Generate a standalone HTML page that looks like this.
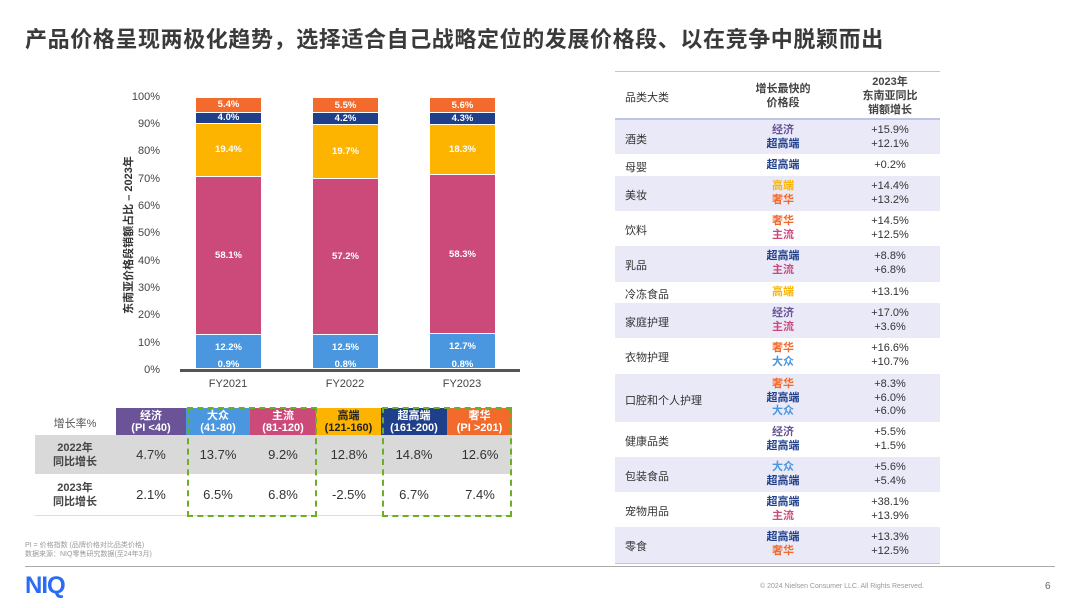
<!DOCTYPE html>
<html><head><meta charset="utf-8"><style>
*{margin:0;padding:0;box-sizing:border-box}
body{width:1080px;height:608px;background:#fff;position:relative;overflow:hidden;font-family:"Liberation Sans","Noto Sans CJK SC",sans-serif;color:#333}
.a{position:absolute}
.title{left:25px;top:22px;font-size:22px;font-weight:bold;color:#3a3a3a;letter-spacing:0.6px;white-space:nowrap}
.yl{right:920px;font-size:11px;color:#444;text-align:right;width:40px}
.bar{width:65px;height:273px;top:97px;display:flex;flex-direction:column-reverse}
.bar div{border-top:1px solid #fff;display:flex;align-items:center;justify-content:center;color:#fff;font-size:9.5px;font-weight:bold;overflow:visible;white-space:nowrap}
.e{background:#6a5497}.m{background:#4a97e0}.p{background:#cc4a7a}.h{background:#fdb400}.s{background:#1f3f8a}.l{background:#f26a2c}
.sl{width:65px;text-align:center;color:#fff;font-size:9.5px;font-weight:bold;top:359px;z-index:2}
.xl{top:378px;font-size:11px;color:#444;width:80px;text-align:center}
.hd{top:408px;height:27px;color:#fff;font-size:11px;font-weight:bold;text-align:center;line-height:12px;padding-top:2px}
.c{font-size:13px;color:#333;text-align:center;width:66px}
.rl{font-size:11px;font-weight:bold;color:#444;text-align:center;width:70px;line-height:14px}
.dash{border:2px dashed #6bb024}
.row{left:615px;width:325px}
.sh{background:#e9e9f8}
.cat{left:625px;font-size:11px;color:#333}
.seg{left:745px;width:76px;text-align:center;font-size:11px;font-weight:bold;line-height:13.5px}
.gr{left:850px;width:80px;text-align:center;font-size:11px;color:#333;line-height:13.5px}
.ce{color:#6a5497}.cm{color:#4a97e0}.cp{color:#cc4a7a}.ch{color:#fdb400}.cs{color:#1f3f8a}.cl{color:#f26a2c}
</style></head><body>
<div class="a title">产品价格呈现两极化趋势，选择适合自己战略定位的发展价格段、以在竞争中脱颖而出</div>

<div class="a yl" style="top:91px">100%</div>
<div class="a yl" style="top:118px">90%</div>
<div class="a yl" style="top:145px">80%</div>
<div class="a yl" style="top:173px">70%</div>
<div class="a yl" style="top:200px">60%</div>
<div class="a yl" style="top:227px">50%</div>
<div class="a yl" style="top:255px">40%</div>
<div class="a yl" style="top:282px">30%</div>
<div class="a yl" style="top:309px">20%</div>
<div class="a yl" style="top:337px">10%</div>
<div class="a yl" style="top:364px">0%</div>
<div class="a" style="left:128px;top:235px;transform:translate(-50%,-50%) rotate(-90deg);font-size:11px;font-weight:bold;color:#333;white-space:nowrap">东南亚价格段销额占比 – 2023年</div>

<div class="a bar" style="left:196px">
<div class="e" style="height:2.5px"></div><div class="m" style="height:33.3px;padding-bottom:8px">12.2%</div><div class="p" style="height:158.6px">58.1%</div><div class="h" style="height:53px">19.4%</div><div class="s" style="height:10.9px">4.0%</div><div class="l" style="height:14.7px">5.4%</div></div>
<div class="a bar" style="left:313px">
<div class="e" style="height:2.2px"></div><div class="m" style="height:34.1px;padding-bottom:8px">12.5%</div><div class="p" style="height:156.2px">57.2%</div><div class="h" style="height:53.8px">19.7%</div><div class="s" style="height:11.5px">4.2%</div><div class="l" style="height:15.2px">5.5%</div></div>
<div class="a bar" style="left:430px">
<div class="e" style="height:2.2px"></div><div class="m" style="height:34.7px;padding-bottom:8px">12.7%</div><div class="p" style="height:159.2px">58.3%</div><div class="h" style="height:50px">18.3%</div><div class="s" style="height:11.7px">4.3%</div><div class="l" style="height:15.2px">5.6%</div></div>
<div class="a sl" style="left:196px">0.9%</div>
<div class="a sl" style="left:313px">0.8%</div>
<div class="a sl" style="left:430px">0.8%</div>
<div class="a" style="left:180px;top:369px;width:340px;height:3px;background:#555"></div>
<div class="a xl" style="left:188px">FY2021</div>
<div class="a xl" style="left:305px">FY2022</div>
<div class="a xl" style="left:422px">FY2023</div>

<div class="a" style="left:40px;top:415px;width:70px;text-align:center;font-size:11px;color:#555">增长率%</div>
<div class="a hd e" style="left:116px;width:70px">经济<br>(PI &lt;40)</div>
<div class="a hd m" style="left:186px;width:64px">大众<br>(41-80)</div>
<div class="a hd p" style="left:250px;width:66px">主流<br>(81-120)</div>
<div class="a hd h" style="left:316px;width:65px;color:#222">高端<br>(121-160)</div>
<div class="a hd s" style="left:381px;width:66px">超高端<br>(161-200)</div>
<div class="a hd l" style="left:447px;width:65px">奢华<br>(PI &gt;201)</div>
<div class="a" style="left:35px;top:435px;width:477px;height:39px;background:#d9d9d9"></div>
<div class="a" style="left:35px;top:515px;width:477px;height:1px;background:#ddd"></div>
<div class="a rl" style="left:40px;top:441px">2022年<br>同比增长</div>
<div class="a rl" style="left:40px;top:481px">2023年<br>同比增长</div>
<div class="a c" style="left:118px;top:447px">4.7%</div><div class="a c" style="left:185px;top:447px">13.7%</div><div class="a c" style="left:250px;top:447px">9.2%</div><div class="a c" style="left:316px;top:447px">12.8%</div><div class="a c" style="left:381px;top:447px">14.8%</div><div class="a c" style="left:447px;top:447px">12.6%</div>
<div class="a c" style="left:118px;top:487px">2.1%</div><div class="a c" style="left:185px;top:487px">6.5%</div><div class="a c" style="left:250px;top:487px">6.8%</div><div class="a c" style="left:316px;top:487px">-2.5%</div><div class="a c" style="left:381px;top:487px">6.7%</div><div class="a c" style="left:447px;top:487px">7.4%</div>
<div class="a dash" style="left:187px;top:407px;width:130px;height:110px"></div>
<div class="a dash" style="left:382px;top:407px;width:130px;height:110px"></div>

<div class="a" style="left:25px;top:541px;font-size:7px;color:#999;line-height:9px">PI = 价格指数 (品牌价格对比品类价格)<br>数据来源：NIQ零售研究数据(至24年3月)</div>
<div class="a" style="left:25px;top:566px;width:1030px;height:1px;background:#aaa"></div>
<div class="a" style="left:25px;top:572px;font-size:24px;font-weight:bold;color:#2b6cf6;letter-spacing:-1px">NIQ</div>
<div class="a" style="left:760px;top:583px;font-size:7px;color:#999">© 2024 Nielsen Consumer LLC. All Rights Reserved.</div>
<div class="a" style="left:1045px;top:581px;font-size:10px;color:#666">6</div>

<div class="a" style="left:615px;top:71px;width:325px;height:1px;background:#bfc3e8"></div>
<div class="a cat" style="top:89px">品类大类</div>
<div class="a" style="left:745px;top:82px;width:76px;text-align:center;font-size:11px;font-weight:bold;color:#444;line-height:14px">增长最快的<br>价格段</div>
<div class="a" style="left:850px;top:75px;width:80px;text-align:center;font-size:11px;font-weight:bold;color:#444;line-height:14px">2023年<br>东南亚同比<br>销额增长</div>
<div class="a" style="left:615px;top:118px;width:325px;height:2px;background:#bfc3e8"></div>

<div class="a row sh" style="top:120px;height:34px"></div>
<div class="a row sh" style="top:176px;height:35px"></div>
<div class="a row sh" style="top:246px;height:36px"></div>
<div class="a row sh" style="top:303px;height:35px"></div>
<div class="a row sh" style="top:374px;height:48px"></div>
<div class="a row sh" style="top:457px;height:35px"></div>
<div class="a row sh" style="top:527px;height:36px"></div>
<div class="a" style="left:615px;top:563px;width:325px;height:1px;background:#bfc3e8"></div>

<div class="a cat" style="top:131px">酒类</div><div class="a seg" style="top:124px"><span class="ce">经济</span><br><span class="cs">超高端</span></div><div class="a gr" style="top:124px">+15.9%<br>+12.1%</div>
<div class="a cat" style="top:159px">母婴</div><div class="a seg" style="top:159px"><span class="cs">超高端</span></div><div class="a gr" style="top:159px">+0.2%</div>
<div class="a cat" style="top:187px">美妆</div><div class="a seg" style="top:180px"><span class="ch">高端</span><br><span class="cl">奢华</span></div><div class="a gr" style="top:180px">+14.4%<br>+13.2%</div>
<div class="a cat" style="top:222px">饮料</div><div class="a seg" style="top:215px"><span class="cl">奢华</span><br><span class="cp">主流</span></div><div class="a gr" style="top:215px">+14.5%<br>+12.5%</div>
<div class="a cat" style="top:257px">乳品</div><div class="a seg" style="top:250px"><span class="cs">超高端</span><br><span class="cp">主流</span></div><div class="a gr" style="top:250px">+8.8%<br>+6.8%</div>
<div class="a cat" style="top:286px">冷冻食品</div><div class="a seg" style="top:286px"><span class="ch">高端</span></div><div class="a gr" style="top:286px">+13.1%</div>
<div class="a cat" style="top:314px">家庭护理</div><div class="a seg" style="top:307px"><span class="ce">经济</span><br><span class="cp">主流</span></div><div class="a gr" style="top:307px">+17.0%<br>+3.6%</div>
<div class="a cat" style="top:349px">衣物护理</div><div class="a seg" style="top:342px"><span class="cl">奢华</span><br><span class="cm">大众</span></div><div class="a gr" style="top:342px">+16.6%<br>+10.7%</div>
<div class="a cat" style="top:392px">口腔和个人护理</div><div class="a seg" style="top:378px"><span class="cl">奢华</span><br><span class="cs">超高端</span><br><span class="cm">大众</span></div><div class="a gr" style="top:378px">+8.3%<br>+6.0%<br>+6.0%</div>
<div class="a cat" style="top:433px">健康品类</div><div class="a seg" style="top:426px"><span class="ce">经济</span><br><span class="cs">超高端</span></div><div class="a gr" style="top:426px">+5.5%<br>+1.5%</div>
<div class="a cat" style="top:468px">包装食品</div><div class="a seg" style="top:461px"><span class="cm">大众</span><br><span class="cs">超高端</span></div><div class="a gr" style="top:461px">+5.6%<br>+5.4%</div>
<div class="a cat" style="top:503px">宠物用品</div><div class="a seg" style="top:496px"><span class="cs">超高端</span><br><span class="cp">主流</span></div><div class="a gr" style="top:496px">+38.1%<br>+13.9%</div>
<div class="a cat" style="top:538px">零食</div><div class="a seg" style="top:531px"><span class="cs">超高端</span><br><span class="cl">奢华</span></div><div class="a gr" style="top:531px">+13.3%<br>+12.5%</div>
</body></html>
